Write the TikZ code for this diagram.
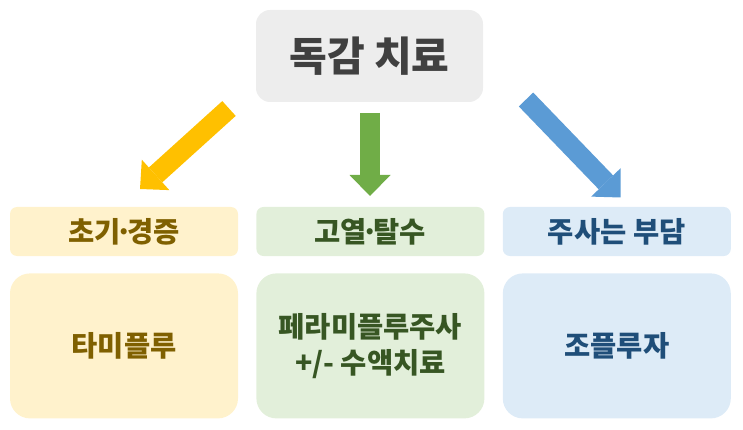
\documentclass[tikz,border=0pt]{standalone}
\usepackage{fontspec}
\setmainfont{Noto Sans CJK KR}
\usetikzlibrary{arrows.meta,positioning}
\definecolor{topbg}{HTML}{EDEDED}
\definecolor{toptx}{HTML}{404040}
\definecolor{ybg}{HTML}{FFF2CC}
\definecolor{ytx}{HTML}{7F6000}
\definecolor{yar}{HTML}{FFC000}
\definecolor{gbg}{HTML}{E2EFDA}
\definecolor{gtx}{HTML}{375623}
\definecolor{gar}{HTML}{70AD47}
\definecolor{bbg}{HTML}{DDEBF7}
\definecolor{btx}{HTML}{1F4E79}
\definecolor{bar}{HTML}{5B9BD5}
\newcommand{\middot}{\kern-.19em·\kern-.19em}

\begin{document}
\begin{tikzpicture}[x=1pt, y=-1pt,
  box/.style={rounded corners=7pt, align=center, inner sep=0pt,
              minimum width=228pt, font=\bfseries\fontsize{28.5}{36}\selectfont},
  head/.style={box, minimum height=49pt},
  body/.style={box, minimum height=145pt, rounded corners=20pt},
  ylw/.style={fill=ybg, text=ytx}, grn/.style={fill=gbg, text=gtx}, blu/.style={fill=bbg, text=btx},
  ar/.style={line width=20pt, -{Triangle[length=21pt, width=41pt, line width=0pt]}}]
\useasboundingbox (0,0) rectangle (743,430);

% --- top: the treatment
\node[box, fill=topbg, text=toptx, minimum width=227pt, minimum height=92pt,
      rounded corners=14pt, font=\bfseries\fontsize{41}{46}\selectfont] (flu) at (369.5,56) {독감 치료};

% --- row 1: who
\node[head, ylw] (early) at (124,231.5) {초기\middot 경증};
\node[head, grn, right=18pt of early] (fever) {고열\middot 탈수};
\node[head, blu, right=18pt of fever] (shot) {주사는 부담};

% --- row 2: which drug
\node[body, ylw, below=17pt of early] (tami) {타미플루};
\node[body, grn, below=17pt of fever] (pera) {페라미플루주사\\+/- 수액치료};
\node[body, blu, below=17pt of shot] (xofl) {조플루자};

% --- arrows
\coordinate (ytail) at (229,108.5); \coordinate (ytip) at (140,189);
\coordinate (gtail) at (370,113);   \coordinate (gtip) at (370,196);
\coordinate (btail) at (526,99.5);  \coordinate (btip) at (620.5,197.5);
\draw[ar, yar] (ytail) -- (ytip);
\draw[ar, gar] (gtail) -- (gtip);
\draw[ar, bar] (btail) -- (btip);
\end{tikzpicture}
\end{document}
